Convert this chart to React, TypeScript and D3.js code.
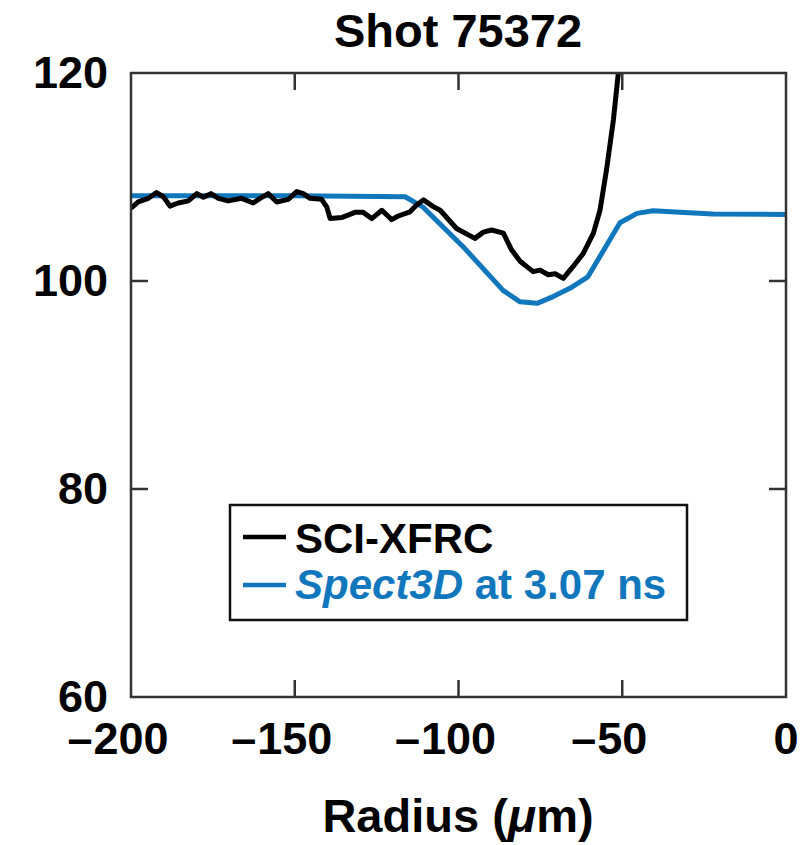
import React from "react";
import * as d3 from "d3";

const xTicks = [-200, -150, -100, -50, 0];
const yTicks = [60, 80, 100, 120];
const innerXTicks = [-150, -100, -50];
const innerYTicks = [80, 100];

const titleText = "Shot 75372";
const seriesNames = ["SCI-XFRC", "Spect3D"];

const xfrcR = [
  -200, -197.8, -194.7, -192.2, -190.1, -188.1, -185.6, -182.5, -179.9, -177.9, -175.6, -173.3,
  -170.3, -166.2, -162.7, -160.6, -158.1, -155.5, -152.0, -149.4, -147.4, -145.3, -141.8, -140.2,
  -139.2, -135.7, -131.6, -129.1, -126.5, -123.4, -120.4, -118.4, -114.8, -112.8, -110.7, -107.7,
  -105.6, -100.6, -95.0, -92.4, -89.9, -86.3, -83.8, -81.2, -77.2, -75.1, -72.6, -70.5, -68.0,
  -65.0, -61.9, -58.8, -56.8, -54.8, -52.7, -51.2, -50.6,
];
const xfrcV = [
  107.0, 107.6, 107.95, 108.5, 108.1, 107.2, 107.5, 107.7, 108.4, 108.05, 108.4, 107.95,
  107.7, 107.95, 107.5, 107.95, 108.4, 107.6, 107.85, 108.6, 108.4, 107.95, 107.85, 107.1,
  106.0, 106.1, 106.6, 106.6, 106.0, 106.8, 105.9, 106.25, 106.65, 107.3, 107.8, 107.15,
  106.8, 105.05, 104.1, 104.7, 104.9, 104.6, 103.0, 101.9, 100.9, 101.05, 100.6, 100.7, 100.25,
  101.4, 102.65, 104.6, 106.8, 110.7, 115.5, 120.0, 122.0,
];

const specR = [-200, -150, -116.3, -110.8, -98.6, -86.4, -81.2, -76.0, -71.1, -66.0, -60.5, -50.7, -45.5, -40.6, -32.4, -22.3, 0];
const specV = [108.2, 108.2, 108.1, 107.1, 103.3, 99.1, 98.0, 97.85, 98.5, 99.3, 100.4, 105.6, 106.5, 106.75, 106.6, 106.45, 106.4];

const W = 806;
const H = 845;
const FONT = "'Liberation Sans', Arial, Helvetica, sans-serif";
const BLUE = "#1177bd";

export default function App() {
  const x = d3.scaleLinear().domain([-200, 0]).range([131, 786]);
  const y = d3.scaleLinear().domain([60, 120]).range([697, 73]);
  const line = d3
    .line<[number, number]>()
    .x((d) => x(d[0]))
    .y((d) => y(d[1]));
  const xfrc: [number, number][] = xfrcR.map((r, i) => [r, xfrcV[i]]);
  const spec: [number, number][] = specR.map((r, i) => [r, specV[i]]);
  const [x0, x1] = x.range();
  const [y0, y1] = [y(120), y(60)];
  const tickLen = 17;
  const fs = 45;
  const digitW = 0.556 * fs;

  return (
    <svg
      width={W}
      height={H}
      style={{ position: "absolute", left: 0, top: 0, background: "#fff" }}
      fontFamily={FONT}
      fontWeight="bold"
    >
      <defs>
        <clipPath id="plotclip">
          <rect x={x0} y={y0} width={x1 - x0} height={y1 - y0} />
        </clipPath>
      </defs>
      <text x={458} y={47} textAnchor="middle" fontSize={47}>
        {titleText}
      </text>

      <g clipPath="url(#plotclip)">
        <path d={line(spec) || ""} fill="none" stroke={BLUE} strokeWidth={5} strokeLinejoin="round" />
        <path d={line(xfrc) || ""} fill="none" stroke="#000" strokeWidth={5} strokeLinejoin="round" />
      </g>

      {/* frame */}
      <rect x={x0} y={y0} width={x1 - x0} height={y1 - y0} fill="none" stroke="#333" strokeWidth={2.5} />
      {innerXTicks.map((t) => (
        <g key={"xt" + t} stroke="#333" strokeWidth={2.5}>
          <line x1={x(t)} x2={x(t)} y1={y1} y2={y1 - tickLen} />
          <line x1={x(t)} x2={x(t)} y1={y0} y2={y0 + tickLen} />
        </g>
      ))}
      {innerYTicks.map((t) => (
        <g key={"yt" + t} stroke="#333" strokeWidth={2.5}>
          <line x1={x0} x2={x0 + tickLen} y1={y(t)} y2={y(t)} />
          <line x1={x1} x2={x1 - tickLen} y1={y(t)} y2={y(t)} />
        </g>
      ))}

      {/* x tick labels */}
      {xTicks.map((t) => {
        const digits = String(Math.abs(t));
        const half = (digits.length * digitW) / 2;
        return (
          <g key={"xl" + t} fontSize={fs}>
            <text x={x(t)} y={754} textAnchor="middle">
              {digits}
            </text>
            {t < 0 && (
              <text x={x(t) - half - 1} y={754} textAnchor="end">
                {"\u2013"}
              </text>
            )}
          </g>
        );
      })}

      {/* y tick labels */}
      {yTicks.map((t) => (
        <text key={"yl" + t} x={108} y={y(t) + 15} textAnchor="end" fontSize={fs}>
          {t}
        </text>
      ))}

      <text x={458} y={832} textAnchor="middle" fontSize={47}>
        Radius (<tspan fontStyle="italic">{"\u03bc"}</tspan>m)
      </text>

      {/* legend */}
      <rect x={230} y={505} width={457} height={115} fill="#fff" stroke="#111" strokeWidth={2.5} />
      <line x1={243} x2={286} y1={537} y2={537} stroke="#000" strokeWidth={4.5} />
      <text x={295} y={553} fontSize={42} fill="#000">
        {seriesNames[0]}
      </text>
      <line x1={243} x2={286} y1={585} y2={585} stroke={BLUE} strokeWidth={4.5} />
      <text x={295} y={599} fontSize={42} fill={BLUE}>
        <tspan fontStyle="italic">{seriesNames[1]}</tspan> at 3.07 ns
      </text>
    </svg>
  );
}
